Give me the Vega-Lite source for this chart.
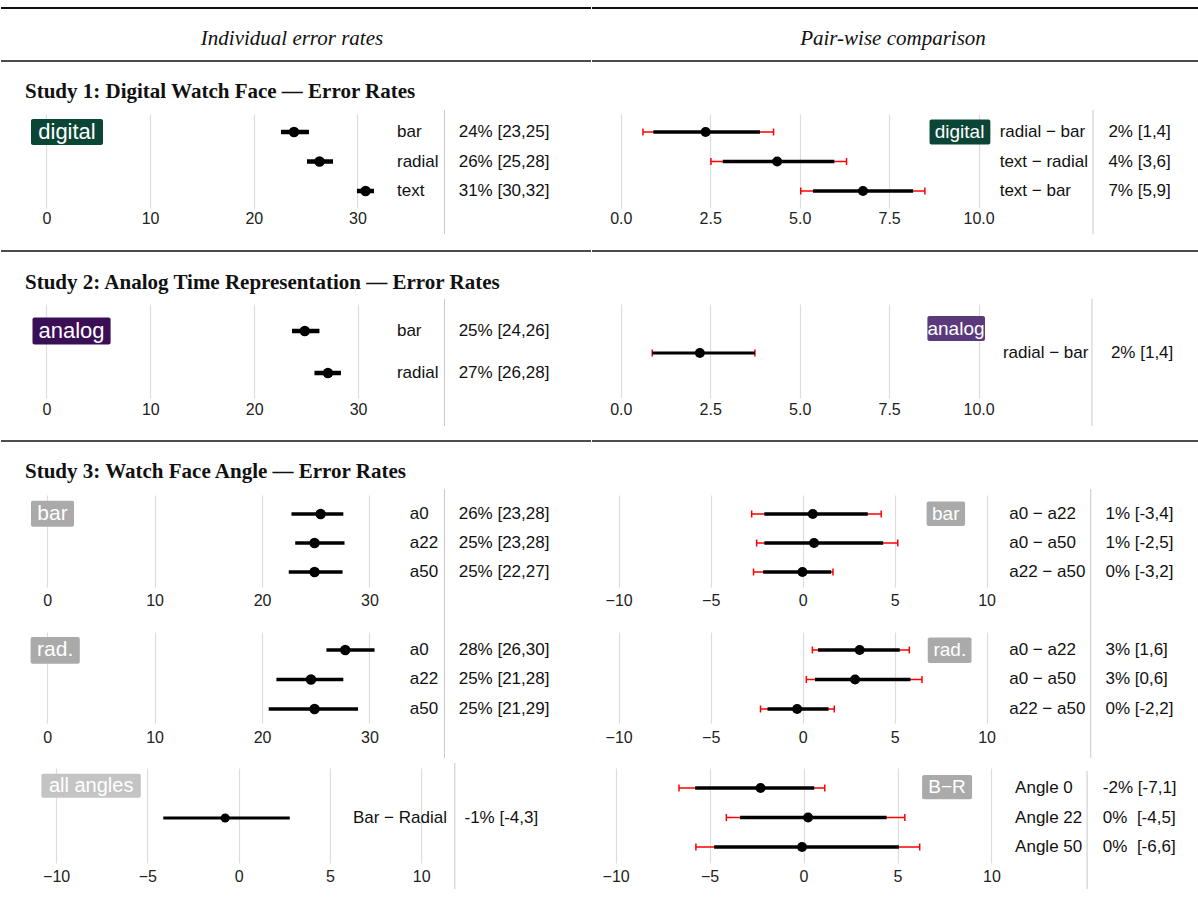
{
"$schema": "https://vega.github.io/schema/vega-lite/v6.json",
"background": "white",
"padding": {"left": 0, "top": 7, "right": 0, "bottom": 0},
"config": {
 "view": {"stroke": null},
 "axis": {"domain": false, "ticks": false, "grid": true, "labelFont": "Liberation Sans", "labelFontSize": 16, "labelColor": "#222222", "labelPadding": 5, "gridColor": "#dddddd", "gridWidth": 1.2, "labelFlush": false, "labelOverlap": false},
 "text": {"font": "Liberation Sans", "fontSize": 17, "color": "#111111"}
},
"datasets": {
 "s1L": [
  {"row": 1, "label": "bar", "est": 23.88, "lo": 22.62, "hi": 25.32, "txt": "24% [23,25]"},
  {"row": 2, "label": "radial", "est": 26.34, "lo": 25.13, "hi": 27.64, "txt": "26% [25,28]"},
  {"row": 3, "label": "text", "est": 30.78, "lo": 29.95, "hi": 31.59, "txt": "31% [30,32]"}
 ],
 "s1R": [
  {"row": 1, "label": "radial − bar", "est": 2.37, "lo": 0.91, "hi": 3.89, "lo95": 0.62, "hi95": 4.27, "txt": "2% [1,4]"},
  {"row": 2, "label": "text − radial", "est": 4.37, "lo": 2.85, "hi": 5.97, "lo95": 2.52, "hi95": 6.31, "txt": "4% [3,6]"},
  {"row": 3, "label": "text − bar", "est": 6.77, "lo": 5.37, "hi": 8.17, "lo95": 5.03, "hi95": 8.5, "txt": "7% [5,9]"}
 ],
 "s2L": [
  {"row": 1, "label": "bar", "est": 24.87, "lo": 23.64, "hi": 26.28, "txt": "25% [24,26]"},
  {"row": 2, "label": "radial", "est": 27.1, "lo": 25.8, "hi": 28.35, "txt": "27% [26,28]"}
 ],
 "s2R": [
  {"row": 1, "label": "radial − bar", "est": 2.21, "lo": 0.88, "hi": 3.75, "lo95": 0.88, "hi95": 3.75, "txt": "2% [1,4]"}
 ],
 "s3bL": [
  {"row": 1, "label": "a0", "est": 25.46, "lo": 22.74, "hi": 27.57, "txt": "26% [23,28]"},
  {"row": 2, "label": "a22", "est": 24.89, "lo": 23.09, "hi": 27.68, "txt": "25% [23,28]"},
  {"row": 3, "label": "a50", "est": 24.89, "lo": 22.49, "hi": 27.5, "txt": "25% [22,27]"}
 ],
 "s3bR": [
  {"row": 1, "label": "a0 − a22", "est": 0.55, "lo": -2.08, "hi": 3.54, "lo95": -2.77, "hi95": 4.27, "txt": "1% [-3,4]"},
  {"row": 2, "label": "a0 − a50", "est": 0.62, "lo": -2.08, "hi": 4.38, "lo95": -2.5, "hi95": 5.17, "txt": "1% [-2,5]"},
  {"row": 3, "label": "a22 − a50", "est": -0.01, "lo": -2.15, "hi": 1.55, "lo95": -2.67, "hi95": 1.65, "txt": "0% [-3,2]"}
 ],
 "s3rL": [
  {"row": 1, "label": "a0", "est": 27.75, "lo": 26.0, "hi": 30.48, "txt": "28% [26,30]"},
  {"row": 2, "label": "a22", "est": 24.56, "lo": 21.34, "hi": 27.57, "txt": "25% [21,28]"},
  {"row": 3, "label": "a50", "est": 24.89, "lo": 20.62, "hi": 28.94, "txt": "25% [21,29]"}
 ],
 "s3rR": [
  {"row": 1, "label": "a0 − a22", "est": 3.1, "lo": 0.83, "hi": 5.28, "lo95": 0.53, "hi95": 5.8, "txt": "3% [1,6]"},
  {"row": 2, "label": "a0 − a50", "est": 2.85, "lo": 0.67, "hi": 5.86, "lo95": 0.2, "hi95": 6.49, "txt": "3% [0,6]"},
  {"row": 3, "label": "a22 − a50", "est": -0.3, "lo": -1.91, "hi": 1.41, "lo95": -2.29, "hi95": 1.72, "txt": "0% [-2,2]"}
 ],
 "s3aL": [
  {"row": 1, "label": "Bar − Radial", "est": -0.74, "lo": -4.13, "hi": 2.8, "txt": "-1% [-4,3]"}
 ],
 "s3aR": [
  {"row": 1, "label": "Angle 0", "est": -2.29, "lo": -5.77, "hi": 0.57, "lo95": -6.63, "hi95": 1.13, "txt": "-2% [-7,1]"},
  {"row": 2, "label": "Angle 22", "est": 0.24, "lo": -3.38, "hi": 4.42, "lo95": -4.11, "hi95": 5.39, "txt": "0%\u00a0 [-4,5]"},
  {"row": 3, "label": "Angle 50", "est": -0.08, "lo": -4.76, "hi": 5.08, "lo95": -5.73, "hi95": 6.18, "txt": "0%\u00a0 [-6,6]"}
 ]
},
"spacing": -2,
"hconcat": [
 {"bounds": "flush", "spacing": 0, "vconcat": [
  {"width": 590, "height": 53,
   "data": {"values": [{"h": "Individual error rates"}]},
   "layer": [
    {"mark": {"type": "rule", "color": "#111111", "strokeWidth": 2}, "encoding": {"y": {"datum": 0, "scale": {"domain": [0, 1], "reverse": true}, "axis": null}}},
    {"mark": {"type": "rule", "color": "#111111", "strokeWidth": 1.5}, "encoding": {"y": {"datum": 1, "axis": null}}},
    {"mark": {"type": "text", "font": "Liberation Serif", "fontStyle": "italic", "fontSize": 21, "baseline": "middle", "dx": -4, "dy": 4, "color": "#111111"}, "encoding": {"x": {"datum": 0.5, "scale": {"domain": [0, 1]}, "axis": null}, "y": {"datum": 0.5, "axis": null}, "text": {"field": "h"}}}
   ]},
  {"width": 590, "height": 53,
   "data": {"values": [{"t": "Study 1: Digital Watch Face — Error Rates"}]},
   "mark": {"type": "text", "font": "Liberation Serif", "fontWeight": "bold", "fontSize": 21, "align": "left", "baseline": "middle", "dx": 24, "dy": 4, "color": "#111111"},
   "encoding": {"x": {"datum": 0, "scale": {"domain": [0, 1]}, "axis": null}, "y": {"datum": 0.5, "scale": {"domain": [0, 1], "reverse": true}, "axis": null}, "text": {"field": "t"}}},
  {"width": 590, "height": 94, "data": {"name": "s1L"},
   "layer": [
    {"data": {"values": [{}]}, "mark": {"type": "rule", "color": "#c8c8c8", "strokeWidth": 1}, "encoding": {"x": {"datum": 38.39, "title": null}, "y": {"datum": 0.254, "axis": null}, "y2": {"datum": 4.46}}},
    {"mark": {"type": "rule", "color": "#000000", "strokeWidth": 4.5}, "encoding": {"x": {"field": "lo", "type": "quantitative", "title": null}, "x2": {"field": "hi"}, "y": {"field": "row", "type": "quantitative", "axis": null}}},
    {"mark": {"type": "circle", "size": 110, "color": "#000000", "opacity": 1}, "encoding": {"x": {"field": "est", "type": "quantitative", "title": null, "scale": {"domain": [-4.378, 52.52], "nice": false, "zero": false}, "axis": {"values": [0, 10, 20, 30], "title": null, "grid": true, "labelPadding": 2}}, "y": {"field": "row", "type": "quantitative", "scale": {"domain": [0.39, 3.576], "reverse": true, "nice": false, "zero": false}, "axis": null}}},
    {"mark": {"type": "text", "align": "left", "baseline": "middle"}, "encoding": {"x": {"datum": 33.81, "title": null}, "y": {"field": "row", "type": "quantitative", "axis": null}, "text": {"field": "label"}}},
    {"mark": {"type": "text", "align": "left", "baseline": "middle"}, "encoding": {"x": {"datum": 39.76, "title": null}, "y": {"field": "row", "type": "quantitative", "axis": null}, "text": {"field": "txt"}}},
    {"data": {"values": [{"t": "digital"}]}, "mark": {"type": "rect", "color": "#0b4536", "cornerRadius": 2}, "encoding": {"x": {"datum": -1.485, "title": null}, "x2": {"datum": 5.458}, "y": {"datum": 0.56, "axis": null}, "y2": {"datum": 1.44}}},
    {"data": {"values": [{"t": "digital"}]}, "mark": {"type": "text", "align": "center", "baseline": "middle", "color": "#ffffff", "fontSize": 22}, "encoding": {"x": {"datum": 1.986, "title": null}, "y": {"datum": 1, "axis": null}, "text": {"field": "t"}}}
   ]},
  {"width": 590, "height": 43, "data": {"values": []}, "mark": "point"},
  {"width": 590, "height": 53,
   "data": {"values": [{"t": "Study 2: Analog Time Representation — Error Rates"}]},
   "layer": [
    {"mark": {"type": "rule", "color": "#111111", "strokeWidth": 1.5}, "encoding": {"y": {"datum": 0, "scale": {"domain": [0, 1], "reverse": true}, "axis": null}}},
    {"mark": {"type": "text", "font": "Liberation Serif", "fontWeight": "bold", "fontSize": 21, "align": "left", "baseline": "middle", "dx": 24, "dy": 5, "color": "#111111"}, "encoding": {"x": {"datum": 0, "scale": {"domain": [0, 1]}, "axis": null}, "y": {"datum": 0.5, "axis": null}, "text": {"field": "t"}}}
   ]},
  {"width": 590, "height": 94, "data": {"name": "s2L"},
   "layer": [
    {"data": {"values": [{}]}, "mark": {"type": "rule", "color": "#c8c8c8", "strokeWidth": 1}, "encoding": {"x": {"datum": 38.32, "title": null}, "y": {"datum": 0.238, "axis": null}, "y2": {"datum": 3.262}}},
    {"mark": {"type": "rule", "color": "#000000", "strokeWidth": 4.5}, "encoding": {"x": {"field": "lo", "type": "quantitative", "title": null}, "x2": {"field": "hi"}, "y": {"field": "row", "type": "quantitative", "axis": null}}},
    {"mark": {"type": "circle", "size": 110, "color": "#000000", "opacity": 1}, "encoding": {"x": {"field": "est", "type": "quantitative", "title": null, "scale": {"domain": [-4.37, 52.42], "nice": false, "zero": false}, "axis": {"values": [0, 10, 20, 30], "title": null, "grid": true, "labelPadding": 3}}, "y": {"field": "row", "type": "quantitative", "scale": {"domain": [0.357, 2.595], "reverse": true, "nice": false, "zero": false}, "axis": null}}},
    {"mark": {"type": "text", "align": "left", "baseline": "middle"}, "encoding": {"x": {"datum": 33.74, "title": null}, "y": {"field": "row", "type": "quantitative", "axis": null}, "text": {"field": "label"}}},
    {"mark": {"type": "text", "align": "left", "baseline": "middle"}, "encoding": {"x": {"datum": 39.68, "title": null}, "y": {"field": "row", "type": "quantitative", "axis": null}, "text": {"field": "txt"}}},
    {"data": {"values": [{"t": "analog"}]}, "mark": {"type": "rect", "color": "#3b0f55", "cornerRadius": 2}, "encoding": {"x": {"datum": -1.338, "title": null}, "x2": {"datum": 6.18}, "y": {"datum": 0.68, "axis": null}, "y2": {"datum": 1.32}}},
    {"data": {"values": [{"t": "analog"}]}, "mark": {"type": "text", "align": "center", "baseline": "middle", "color": "#ffffff", "fontSize": 22}, "encoding": {"x": {"datum": 2.42, "title": null}, "y": {"datum": 1, "axis": null}, "text": {"field": "t"}}}
   ]},
  {"width": 590, "height": 43, "data": {"values": []}, "mark": "point"},
  {"width": 590, "height": 54,
   "data": {"values": [{"t": "Study 3: Watch Face Angle — Error Rates"}]},
   "layer": [
    {"mark": {"type": "rule", "color": "#111111", "strokeWidth": 1.5}, "encoding": {"y": {"datum": 0, "scale": {"domain": [0, 1], "reverse": true}, "axis": null}}},
    {"mark": {"type": "text", "font": "Liberation Serif", "fontWeight": "bold", "fontSize": 21, "align": "left", "baseline": "middle", "dx": 24, "dy": 4, "color": "#111111"}, "encoding": {"x": {"datum": 0, "scale": {"domain": [0, 1]}, "axis": null}, "y": {"datum": 0.5, "axis": null}, "text": {"field": "t"}}}
   ]},
  {"width": 590, "height": 92, "data": {"name": "s3bL"},
   "layer": [
    {"data": {"values": [{}]}, "mark": {"type": "rule", "color": "#c8c8c8", "strokeWidth": 1}, "encoding": {"x": {"datum": 36.99, "title": null}, "y": {"datum": 0.138, "axis": null}, "y2": {"datum": 4.862}}},
    {"mark": {"type": "rule", "color": "#000000", "strokeWidth": 3.5}, "encoding": {"x": {"field": "lo", "type": "quantitative", "title": null}, "x2": {"field": "hi"}, "y": {"field": "row", "type": "quantitative", "axis": null}}},
    {"mark": {"type": "circle", "size": 110, "color": "#000000", "opacity": 1}, "encoding": {"x": {"field": "est", "type": "quantitative", "title": null, "scale": {"domain": [-4.302, 50.63], "nice": false, "zero": false}, "axis": {"values": [0, 10, 20, 30], "title": null, "grid": true}}, "y": {"field": "row", "type": "quantitative", "scale": {"domain": [0.345, 3.517], "reverse": true, "nice": false, "zero": false}, "axis": null}}},
    {"mark": {"type": "text", "align": "left", "baseline": "middle"}, "encoding": {"x": {"datum": 33.76, "title": null}, "y": {"field": "row", "type": "quantitative", "axis": null}, "text": {"field": "label"}}},
    {"mark": {"type": "text", "align": "left", "baseline": "middle"}, "encoding": {"x": {"datum": 38.31, "title": null}, "y": {"field": "row", "type": "quantitative", "axis": null}, "text": {"field": "txt"}}},
    {"data": {"values": [{"t": "bar"}]}, "mark": {"type": "rect", "color": "#aaaaaa", "cornerRadius": 2}, "encoding": {"x": {"datum": -1.508, "title": null}, "x2": {"datum": 2.497}, "y": {"datum": 0.54, "axis": null}, "y2": {"datum": 1.44}}},
    {"data": {"values": [{"t": "bar"}]}, "mark": {"type": "text", "align": "center", "baseline": "middle", "color": "#ffffff", "fontSize": 21}, "encoding": {"x": {"datum": 0.49, "title": null}, "y": {"datum": 0.99, "axis": null}, "text": {"field": "t"}}}
   ]},
  {"width": 590, "height": 45, "data": {"values": []}, "mark": "point"},
  {"width": 590, "height": 91, "data": {"name": "s3rL"},
   "layer": [
    {"data": {"values": [{}]}, "mark": {"type": "rule", "color": "#c8c8c8", "strokeWidth": 1}, "encoding": {"x": {"datum": 36.99, "title": null}, "y": {"datum": 0.187, "axis": null}, "y2": {"datum": 4.66}}},
    {"mark": {"type": "rule", "color": "#000000", "strokeWidth": 3.5}, "encoding": {"x": {"field": "lo", "type": "quantitative", "title": null}, "x2": {"field": "hi"}, "y": {"field": "row", "type": "quantitative", "axis": null}}},
    {"mark": {"type": "circle", "size": 110, "color": "#000000", "opacity": 1}, "encoding": {"x": {"field": "est", "type": "quantitative", "title": null, "scale": {"domain": [-4.302, 50.63], "nice": false, "zero": false}, "axis": {"values": [0, 10, 20, 30], "title": null, "grid": true, "labelPadding": 6}}, "y": {"field": "row", "type": "quantitative", "scale": {"domain": [0.39, 3.475], "reverse": true, "nice": false, "zero": false}, "axis": null}}},
    {"mark": {"type": "text", "align": "left", "baseline": "middle"}, "encoding": {"x": {"datum": 33.76, "title": null}, "y": {"field": "row", "type": "quantitative", "axis": null}, "text": {"field": "label"}}},
    {"mark": {"type": "text", "align": "left", "baseline": "middle"}, "encoding": {"x": {"datum": 38.31, "title": null}, "y": {"field": "row", "type": "quantitative", "axis": null}, "text": {"field": "txt"}}},
    {"data": {"values": [{"t": "rad."}]}, "mark": {"type": "rect", "color": "#aaaaaa", "cornerRadius": 2}, "encoding": {"x": {"datum": -1.546, "title": null}, "x2": {"datum": 3.035}, "y": {"datum": 0.56, "axis": null}, "y2": {"datum": 1.465}}},
    {"data": {"values": [{"t": "rad."}]}, "mark": {"type": "text", "align": "center", "baseline": "middle", "color": "#ffffff", "fontSize": 21}, "encoding": {"x": {"datum": 0.745, "title": null}, "y": {"datum": 1.01, "axis": null}, "text": {"field": "t"}}}
   ]},
  {"width": 590, "height": 45, "data": {"values": []}, "mark": "point"},
  {"width": 590, "height": 95, "data": {"name": "s3aL"},
   "layer": [
    {"data": {"values": [{}]}, "mark": {"type": "rule", "color": "#c8c8c8", "strokeWidth": 1}, "encoding": {"x": {"datum": 11.84, "title": null}, "y": {"datum": -0.864, "axis": null}, "y2": {"datum": 3.407}}},
    {"mark": {"type": "rule", "color": "#000000", "strokeWidth": 3}, "encoding": {"x": {"field": "lo", "type": "quantitative", "title": null}, "x2": {"field": "hi"}, "y": {"field": "row", "type": "quantitative", "axis": null}}},
    {"mark": {"type": "circle", "size": 80, "color": "#000000", "opacity": 1}, "encoding": {"x": {"field": "est", "type": "quantitative", "title": null, "scale": {"domain": [-13.02, 19.3], "nice": false, "zero": false}, "axis": {"values": [-10, -5, 0, 5, 10], "title": null, "grid": true}}, "y": {"field": "row", "type": "quantitative", "scale": {"domain": [-0.695, 2.525], "reverse": true, "nice": false, "zero": false}, "axis": null}}},
    {"mark": {"type": "text", "align": "right", "baseline": "middle"}, "encoding": {"x": {"datum": 11.41, "title": null}, "y": {"field": "row", "type": "quantitative", "axis": null}, "text": {"field": "label"}}},
    {"mark": {"type": "text", "align": "left", "baseline": "middle"}, "encoding": {"x": {"datum": 12.37, "title": null}, "y": {"field": "row", "type": "quantitative", "axis": null}, "text": {"field": "txt"}}},
    {"data": {"values": [{"t": "all angles"}]}, "mark": {"type": "rect", "color": "#c4c4c4", "cornerRadius": 2}, "encoding": {"x": {"datum": -10.81, "title": null}, "x2": {"datum": -5.36}, "y": {"datum": -0.502, "axis": null}, "y2": {"datum": 0.312}}},
    {"data": {"values": [{"t": "all angles"}]}, "mark": {"type": "text", "align": "center", "baseline": "middle", "color": "#ffffff", "fontSize": 20}, "encoding": {"x": {"datum": -8.08, "title": null}, "y": {"datum": -0.095, "axis": null}, "text": {"field": "t"}}}
   ]}
 ]},
 {"bounds": "flush", "spacing": 0, "vconcat": [
  {"width": 608, "height": 53,
   "data": {"values": [{"h": "Pair-wise comparison"}]},
   "layer": [
    {"mark": {"type": "rule", "color": "#111111", "strokeWidth": 2}, "encoding": {"y": {"datum": 0, "scale": {"domain": [0, 1], "reverse": true}, "axis": null}}},
    {"mark": {"type": "rule", "color": "#111111", "strokeWidth": 1.5}, "encoding": {"y": {"datum": 1, "axis": null}}},
    {"mark": {"type": "text", "font": "Liberation Serif", "fontStyle": "italic", "fontSize": 21, "baseline": "middle", "dx": -3, "dy": 4, "color": "#111111"}, "encoding": {"x": {"datum": 0.5, "scale": {"domain": [0, 1]}, "axis": null}, "y": {"datum": 0.5, "axis": null}, "text": {"field": "h"}}}
   ]},
  {"width": 608, "height": 53, "data": {"values": []}, "mark": "point"},
  {"width": 608, "height": 94, "data": {"name": "s1R"},
   "layer": [
    {"data": {"values": [{}]}, "mark": {"type": "rule", "color": "#c8c8c8", "strokeWidth": 1}, "encoding": {"x": {"datum": 13.2, "title": null}, "y": {"datum": 0.254, "axis": null}, "y2": {"datum": 4.46}}},
    {"mark": {"type": "rule", "color": "#ff0000", "strokeWidth": 1.5}, "encoding": {"x": {"field": "lo95", "type": "quantitative", "title": null}, "x2": {"field": "hi95"}, "y": {"field": "row", "type": "quantitative", "axis": null}}},
    {"mark": {"type": "tick", "orient": "vertical", "size": 7, "thickness": 1.5, "color": "#ff0000", "opacity": 1}, "encoding": {"x": {"field": "lo95", "type": "quantitative", "title": null}, "y": {"field": "row", "type": "quantitative", "axis": null}}},
    {"mark": {"type": "tick", "orient": "vertical", "size": 7, "thickness": 1.5, "color": "#ff0000", "opacity": 1}, "encoding": {"x": {"field": "hi95", "type": "quantitative", "title": null}, "y": {"field": "row", "type": "quantitative", "axis": null}}},
    {"mark": {"type": "rule", "color": "#000000", "strokeWidth": 3.5}, "encoding": {"x": {"field": "lo", "type": "quantitative", "title": null}, "x2": {"field": "hi"}, "y": {"field": "row", "type": "quantitative", "axis": null}}},
    {"mark": {"type": "circle", "size": 100, "color": "#000000", "opacity": 1}, "encoding": {"x": {"field": "est", "type": "quantitative", "title": null, "scale": {"domain": [-0.805, 16.19], "nice": false, "zero": false}, "axis": {"values": [0, 2.5, 5, 7.5, 10], "format": ".1f", "title": null, "grid": true, "labelPadding": 2}}, "y": {"field": "row", "type": "quantitative", "scale": {"domain": [0.39, 3.576], "reverse": true, "nice": false, "zero": false}, "axis": null}}},
    {"mark": {"type": "text", "align": "left", "baseline": "middle"}, "encoding": {"x": {"datum": 10.59, "title": null}, "y": {"field": "row", "type": "quantitative", "axis": null}, "text": {"field": "label"}}},
    {"mark": {"type": "text", "align": "left", "baseline": "middle"}, "encoding": {"x": {"datum": 13.63, "title": null}, "y": {"field": "row", "type": "quantitative", "axis": null}, "text": {"field": "txt"}}},
    {"data": {"values": [{"t": "digital"}]}, "mark": {"type": "rect", "color": "#0b4536", "cornerRadius": 2}, "encoding": {"x": {"datum": 8.63, "title": null}, "x2": {"datum": 10.33}, "y": {"datum": 0.58, "axis": null}, "y2": {"datum": 1.42}}},
    {"data": {"values": [{"t": "digital"}]}, "mark": {"type": "text", "align": "center", "baseline": "middle", "color": "#ffffff", "fontSize": 19}, "encoding": {"x": {"datum": 9.47, "title": null}, "y": {"datum": 1, "axis": null}, "text": {"field": "t"}}}
   ]},
  {"width": 608, "height": 43, "data": {"values": []}, "mark": "point"},
  {"width": 608, "height": 53,
   "data": {"values": [{}]},
   "mark": {"type": "rule", "color": "#111111", "strokeWidth": 1.5},
   "encoding": {"y": {"datum": 0, "scale": {"domain": [0, 1], "reverse": true}, "axis": null}}},
  {"width": 608, "height": 94, "data": {"name": "s2R"},
   "layer": [
    {"data": {"values": [{}]}, "mark": {"type": "rule", "color": "#c8c8c8", "strokeWidth": 1}, "encoding": {"x": {"datum": 13.17, "title": null}, "y": {"datum": -0.286, "axis": null}, "y2": {"datum": 2.738}}},
    {"mark": {"type": "rule", "color": "#ff0000", "strokeWidth": 1.5}, "encoding": {"x": {"field": "lo95", "type": "quantitative", "title": null}, "x2": {"field": "hi95"}, "y": {"field": "row", "type": "quantitative", "axis": null}}},
    {"mark": {"type": "tick", "orient": "vertical", "size": 7, "thickness": 1.5, "color": "#ff0000", "opacity": 1}, "encoding": {"x": {"field": "lo95", "type": "quantitative", "title": null}, "y": {"field": "row", "type": "quantitative", "axis": null}}},
    {"mark": {"type": "tick", "orient": "vertical", "size": 7, "thickness": 1.5, "color": "#ff0000", "opacity": 1}, "encoding": {"x": {"field": "hi95", "type": "quantitative", "title": null}, "y": {"field": "row", "type": "quantitative", "axis": null}}},
    {"mark": {"type": "rule", "color": "#000000", "strokeWidth": 3.2}, "encoding": {"x": {"field": "lo", "type": "quantitative", "title": null}, "x2": {"field": "hi"}, "y": {"field": "row", "type": "quantitative", "axis": null}}},
    {"mark": {"type": "circle", "size": 100, "color": "#000000", "opacity": 1}, "encoding": {"x": {"field": "est", "type": "quantitative", "title": null, "scale": {"domain": [-0.805, 16.19], "nice": false, "zero": false}, "axis": {"values": [0, 2.5, 5, 7.5, 10], "format": ".1f", "title": null, "grid": true, "labelPadding": 3}}, "y": {"field": "row", "type": "quantitative", "scale": {"domain": [-0.167, 2.071], "reverse": true, "nice": false, "zero": false}, "axis": null}}},
    {"mark": {"type": "text", "align": "left", "baseline": "middle"}, "encoding": {"x": {"datum": 10.68, "title": null}, "y": {"field": "row", "type": "quantitative", "axis": null}, "text": {"field": "label"}}},
    {"mark": {"type": "text", "align": "left", "baseline": "middle"}, "encoding": {"x": {"datum": 13.7, "title": null}, "y": {"field": "row", "type": "quantitative", "axis": null}, "text": {"field": "txt"}}},
    {"data": {"values": [{"t": "analog"}]}, "mark": {"type": "rect", "color": "#5a3a7c", "cornerRadius": 2}, "encoding": {"x": {"datum": 8.57, "title": null}, "x2": {"datum": 10.18}, "y": {"datum": 0.119, "axis": null}, "y2": {"datum": 0.714}}},
    {"data": {"values": [{"t": "analog"}]}, "mark": {"type": "text", "align": "center", "baseline": "middle", "color": "#ffffff", "fontSize": 19}, "encoding": {"x": {"datum": 9.37, "title": null}, "y": {"datum": 0.417, "axis": null}, "text": {"field": "t"}}}
   ]},
  {"width": 608, "height": 43, "data": {"values": []}, "mark": "point"},
  {"width": 608, "height": 54,
   "data": {"values": [{}]},
   "mark": {"type": "rule", "color": "#111111", "strokeWidth": 1.5},
   "encoding": {"y": {"datum": 0, "scale": {"domain": [0, 1], "reverse": true}, "axis": null}}},
  {"width": 608, "height": 92, "data": {"name": "s3bR"},
   "layer": [
    {"data": {"values": [{}]}, "mark": {"type": "rule", "color": "#c8c8c8", "strokeWidth": 1}, "encoding": {"x": {"datum": 15.66, "title": null}, "y": {"datum": 0.138, "axis": null}, "y2": {"datum": 4.862}}},
    {"mark": {"type": "rule", "color": "#ff0000", "strokeWidth": 1.5}, "encoding": {"x": {"field": "lo95", "type": "quantitative", "title": null}, "x2": {"field": "hi95"}, "y": {"field": "row", "type": "quantitative", "axis": null}}},
    {"mark": {"type": "tick", "orient": "vertical", "size": 7, "thickness": 1.5, "color": "#ff0000", "opacity": 1}, "encoding": {"x": {"field": "lo95", "type": "quantitative", "title": null}, "y": {"field": "row", "type": "quantitative", "axis": null}}},
    {"mark": {"type": "tick", "orient": "vertical", "size": 7, "thickness": 1.5, "color": "#ff0000", "opacity": 1}, "encoding": {"x": {"field": "hi95", "type": "quantitative", "title": null}, "y": {"field": "row", "type": "quantitative", "axis": null}}},
    {"mark": {"type": "rule", "color": "#000000", "strokeWidth": 3.5}, "encoding": {"x": {"field": "lo", "type": "quantitative", "title": null}, "x2": {"field": "hi"}, "y": {"field": "row", "type": "quantitative", "axis": null}}},
    {"mark": {"type": "circle", "size": 100, "color": "#000000", "opacity": 1}, "encoding": {"x": {"field": "est", "type": "quantitative", "title": null, "scale": {"domain": [-11.45, 21.6], "nice": false, "zero": false}, "axis": {"values": [-10, -5, 0, 5, 10], "title": null, "grid": true}}, "y": {"field": "row", "type": "quantitative", "scale": {"domain": [0.345, 3.517], "reverse": true, "nice": false, "zero": false}, "axis": null}}},
    {"mark": {"type": "text", "align": "left", "baseline": "middle"}, "encoding": {"x": {"datum": 11.23, "title": null}, "y": {"field": "row", "type": "quantitative", "axis": null}, "text": {"field": "label"}}},
    {"mark": {"type": "text", "align": "left", "baseline": "middle"}, "encoding": {"x": {"datum": 16.46, "title": null}, "y": {"field": "row", "type": "quantitative", "axis": null}, "text": {"field": "txt"}}},
    {"data": {"values": [{"t": "bar"}]}, "mark": {"type": "rect", "color": "#aaaaaa", "cornerRadius": 2}, "encoding": {"x": {"datum": 6.74, "title": null}, "x2": {"datum": 8.83}, "y": {"datum": 0.57, "axis": null}, "y2": {"datum": 1.41}}},
    {"data": {"values": [{"t": "bar"}]}, "mark": {"type": "text", "align": "center", "baseline": "middle", "color": "#ffffff", "fontSize": 19}, "encoding": {"x": {"datum": 7.78, "title": null}, "y": {"datum": 0.99, "axis": null}, "text": {"field": "t"}}}
   ]},
  {"width": 608, "height": 45, "data": {"values": []}, "mark": "point"},
  {"width": 608, "height": 91, "data": {"name": "s3rR"},
   "layer": [
    {"data": {"values": [{}]}, "mark": {"type": "rule", "color": "#c8c8c8", "strokeWidth": 1}, "encoding": {"x": {"datum": 15.66, "title": null}, "y": {"datum": 0.187, "axis": null}, "y2": {"datum": 4.66}}},
    {"mark": {"type": "rule", "color": "#ff0000", "strokeWidth": 1.5}, "encoding": {"x": {"field": "lo95", "type": "quantitative", "title": null}, "x2": {"field": "hi95"}, "y": {"field": "row", "type": "quantitative", "axis": null}}},
    {"mark": {"type": "tick", "orient": "vertical", "size": 7, "thickness": 1.5, "color": "#ff0000", "opacity": 1}, "encoding": {"x": {"field": "lo95", "type": "quantitative", "title": null}, "y": {"field": "row", "type": "quantitative", "axis": null}}},
    {"mark": {"type": "tick", "orient": "vertical", "size": 7, "thickness": 1.5, "color": "#ff0000", "opacity": 1}, "encoding": {"x": {"field": "hi95", "type": "quantitative", "title": null}, "y": {"field": "row", "type": "quantitative", "axis": null}}},
    {"mark": {"type": "rule", "color": "#000000", "strokeWidth": 3.5}, "encoding": {"x": {"field": "lo", "type": "quantitative", "title": null}, "x2": {"field": "hi"}, "y": {"field": "row", "type": "quantitative", "axis": null}}},
    {"mark": {"type": "circle", "size": 100, "color": "#000000", "opacity": 1}, "encoding": {"x": {"field": "est", "type": "quantitative", "title": null, "scale": {"domain": [-11.45, 21.6], "nice": false, "zero": false}, "axis": {"values": [-10, -5, 0, 5, 10], "title": null, "grid": true, "labelPadding": 6}}, "y": {"field": "row", "type": "quantitative", "scale": {"domain": [0.39, 3.475], "reverse": true, "nice": false, "zero": false}, "axis": null}}},
    {"mark": {"type": "text", "align": "left", "baseline": "middle"}, "encoding": {"x": {"datum": 11.23, "title": null}, "y": {"field": "row", "type": "quantitative", "axis": null}, "text": {"field": "label"}}},
    {"mark": {"type": "text", "align": "left", "baseline": "middle"}, "encoding": {"x": {"datum": 16.46, "title": null}, "y": {"field": "row", "type": "quantitative", "axis": null}, "text": {"field": "txt"}}},
    {"data": {"values": [{"t": "rad."}]}, "mark": {"type": "rect", "color": "#aaaaaa", "cornerRadius": 2}, "encoding": {"x": {"datum": 6.8, "title": null}, "x2": {"datum": 9.18}, "y": {"datum": 0.58, "axis": null}, "y2": {"datum": 1.44}}},
    {"data": {"values": [{"t": "rad."}]}, "mark": {"type": "text", "align": "center", "baseline": "middle", "color": "#ffffff", "fontSize": 19}, "encoding": {"x": {"datum": 8.0, "title": null}, "y": {"datum": 1.01, "axis": null}, "text": {"field": "t"}}}
   ]},
  {"width": 608, "height": 45, "data": {"values": []}, "mark": "point"},
  {"width": 608, "height": 95, "data": {"name": "s3aR"},
   "layer": [
    {"data": {"values": [{}]}, "mark": {"type": "rule", "color": "#c8c8c8", "strokeWidth": 1}, "encoding": {"x": {"datum": 15.09, "title": null}, "y": {"datum": 0.424, "axis": null}, "y2": {"datum": 4.424}}},
    {"mark": {"type": "rule", "color": "#ff0000", "strokeWidth": 1.5}, "encoding": {"x": {"field": "lo95", "type": "quantitative", "title": null}, "x2": {"field": "hi95"}, "y": {"field": "row", "type": "quantitative", "axis": null}}},
    {"mark": {"type": "tick", "orient": "vertical", "size": 7, "thickness": 1.5, "color": "#ff0000", "opacity": 1}, "encoding": {"x": {"field": "lo95", "type": "quantitative", "title": null}, "y": {"field": "row", "type": "quantitative", "axis": null}}},
    {"mark": {"type": "tick", "orient": "vertical", "size": 7, "thickness": 1.5, "color": "#ff0000", "opacity": 1}, "encoding": {"x": {"field": "hi95", "type": "quantitative", "title": null}, "y": {"field": "row", "type": "quantitative", "axis": null}}},
    {"mark": {"type": "rule", "color": "#000000", "strokeWidth": 3.5}, "encoding": {"x": {"field": "lo", "type": "quantitative", "title": null}, "x2": {"field": "hi"}, "y": {"field": "row", "type": "quantitative", "axis": null}}},
    {"mark": {"type": "circle", "size": 100, "color": "#000000", "opacity": 1}, "encoding": {"x": {"field": "est", "type": "quantitative", "title": null, "scale": {"domain": [-11.26, 21.1], "nice": false, "zero": false}, "axis": {"values": [-10, -5, 0, 5, 10], "title": null, "grid": true}}, "y": {"field": "row", "type": "quantitative", "scale": {"domain": [0.322, 3.542], "reverse": true, "nice": false, "zero": false}, "axis": null}}},
    {"mark": {"type": "text", "align": "left", "baseline": "middle"}, "encoding": {"x": {"datum": 11.26, "title": null}, "y": {"field": "row", "type": "quantitative", "axis": null}, "text": {"field": "label"}}},
    {"mark": {"type": "text", "align": "left", "baseline": "middle"}, "encoding": {"x": {"datum": 15.93, "title": null}, "y": {"field": "row", "type": "quantitative", "axis": null}, "text": {"field": "txt"}}},
    {"data": {"values": [{"t": "B−R"}]}, "mark": {"type": "rect", "color": "#aaaaaa", "cornerRadius": 2}, "encoding": {"x": {"datum": 6.31, "title": null}, "x2": {"datum": 8.97}, "y": {"datum": 0.559, "axis": null}, "y2": {"datum": 1.383}}},
    {"data": {"values": [{"t": "B−R"}]}, "mark": {"type": "text", "align": "center", "baseline": "middle", "color": "#ffffff", "fontSize": 19}, "encoding": {"x": {"datum": 7.64, "title": null}, "y": {"datum": 0.97, "axis": null}, "text": {"field": "t"}}}
   ]}
 ]}
]
}
